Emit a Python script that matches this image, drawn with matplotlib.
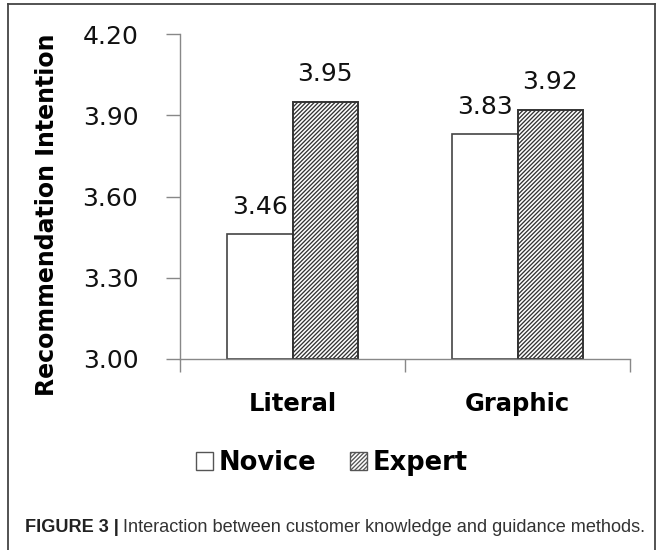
import matplotlib.pyplot as plt
from matplotlib.patches import Patch
from matplotlib.lines import Line2D

categories = ['Literal', 'Graphic']
novice = [3.46, 3.83]
expert = [3.95, 3.92]
y_ticks = [3.00, 3.30, 3.60, 3.90, 4.20]

plt.rcParams['hatch.linewidth'] = 0.95
plt.rcParams['hatch.color'] = '#333333'

fig = plt.figure(figsize=(6.57, 5.5), dpi=100)
ax = fig.add_axes([180/657, 1 - 359/550, 450/657, 325/550])

w = 0.289
pos = range(len(categories))
b1 = ax.bar([p - w/2 for p in pos], [v - 3.0 for v in novice], w, bottom=3.0,
            color='white', edgecolor='#444444', linewidth=1.2, label='Novice')
b2 = ax.bar([p + w/2 for p in pos], [v - 3.0 for v in expert], w, bottom=3.0,
            color='white', edgecolor='#333333', linewidth=1.4, hatch='////////', label='Expert')

for bars, vals in ((b1, novice), (b2, expert)):
    for r, v in zip(bars, vals):
        ax.text(r.get_x() + r.get_width()/2, v + 0.058, f'{v:.2f}',
                ha='center', va='bottom', fontsize=18, color='#111111')

ax.set_ylim(3.0, 4.2)
ax.set_xlim(-0.5, 1.5)
ax.set_yticks(y_ticks)
ax.set_yticklabels([f'{t:.2f}' for t in y_ticks], fontsize=18, color='#111111')
ax.set_xticks([-0.5, 0.5, 1.5])
ax.set_xticklabels([])
ax.set_xticks(list(pos), minor=True)
ax.set_xticklabels(categories, minor=True, fontsize=17.5, fontweight='bold')
ax.tick_params(axis='x', which='minor', length=0, pad=24)
ax.tick_params(axis='x', which='major', length=9, color='#888888', width=1)
ax.tick_params(axis='y', length=10, color='#888888', width=1, pad=20)
for s in ('top', 'right'):
    ax.spines[s].set_visible(False)
for s in ('left', 'bottom'):
    ax.spines[s].set_color('#888888')
    ax.spines[s].set_linewidth(1)
ax.set_ylabel('Recommendation Intention', fontsize=17, fontweight='bold')
ax.yaxis.set_label_coords(-0.268, 0.443)

handles = [Patch(facecolor='white', edgecolor='#555555', label='Novice'),
           Patch(facecolor='white', edgecolor='#555555', hatch='////////', label='Expert')]
fig.legend(handles=handles, loc='center', bbox_to_anchor=(332/657, 1 - 463/550), ncol=2,
           frameon=False, prop={'size': 18.5, 'weight': 'bold'}, handlelength=0.65,
           handleheight=0.65, handletextpad=0.25, columnspacing=1.3)

# outer frame
fig.add_artist(Line2D([8/657, 8/657], [-0.1, 1 - 4/550], color='#444444', lw=1.3, transform=fig.transFigure))
fig.add_artist(Line2D([8/657, 655/657], [1 - 4/550, 1 - 4/550], color='#444444', lw=1.3, transform=fig.transFigure))
fig.add_artist(Line2D([655/657, 655/657], [-0.1, 1 - 4/550], color='#444444', lw=1.3, transform=fig.transFigure))

t1 = fig.text(25/657, 1 - 527/550, 'FIGURE 3 |', fontsize=13.1, fontweight='bold',
              family='Liberation Sans', color='#222222', va='center')
fig.canvas.draw()
bb = t1.get_window_extent()
fig.text(bb.x1/657 + 4/657, 1 - 527/550, 'Interaction between customer knowledge and guidance methods.',
         fontsize=13.1, family='Liberation Sans', color='#333333', va='center')

fig.savefig('out.png', dpi=100)
